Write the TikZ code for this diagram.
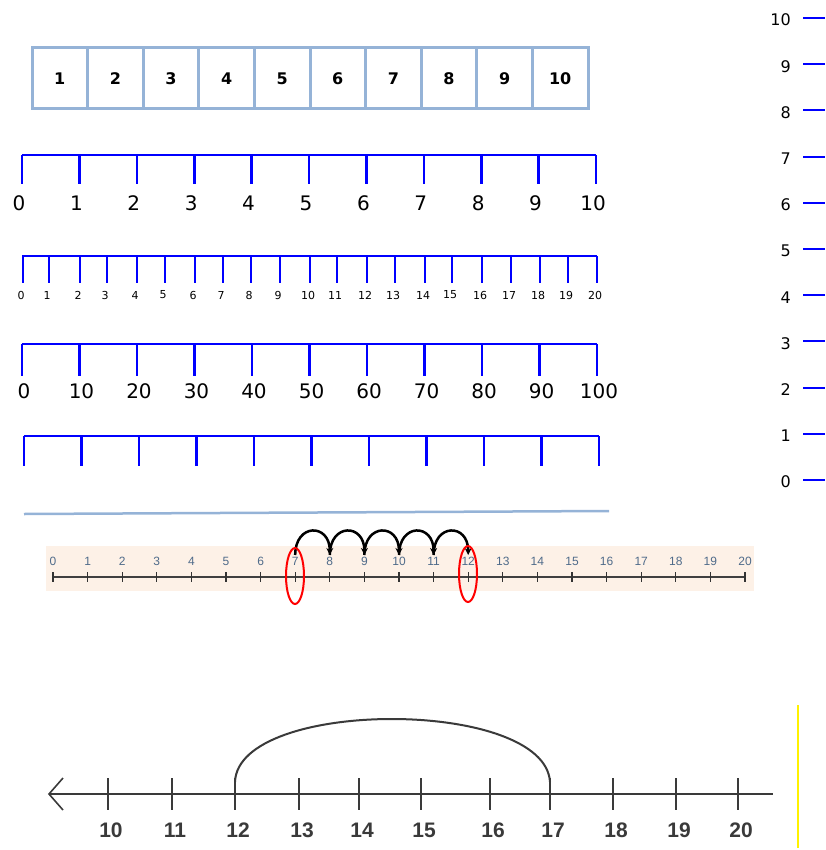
\documentclass[tikz,border=0pt]{standalone}
\usepackage{fontspec}
\setmainfont{DejaVu Sans}
\newfontfamily\arialf{Liberation Sans}
\usetikzlibrary{arrows.meta,shapes.geometric}
\definecolor{boxblue}{HTML}{95B3D7}
\definecolor{lineblue}{HTML}{0000FF}
\definecolor{peach}{HTML}{FDF1E7}
\definecolor{labgray}{HTML}{4F6B8A}
\definecolor{darkgrey}{HTML}{3A3A3A}
\tikzset{
  cell/.style={draw=boxblue, line width=3pt, minimum width=55.6pt, minimum height=61pt, inner sep=0pt, font=\bfseries\fontsize{16}{16}\selectfont},
  nl/.style={draw=lineblue, line width=2.6pt},
  biglab/.style={inner sep=0pt, font=\fontsize{20}{20}\selectfont},
  smalllab/.style={inner sep=0pt, font=\fontsize{11}{11}\selectfont},
  rightlab/.style={inner sep=0pt, anchor=east, font=\fontsize{16}{16}\selectfont},
  peachlab/.style={inner sep=0pt, text=labgray, font=\arialf\fontsize{12}{12}\selectfont},
  botlab/.style={inner sep=0pt, text=darkgrey, font=\arialf\bfseries\fontsize{21}{21}\selectfont},
  jump/.style={line width=2.5pt, -{Stealth[length=7pt,width=7pt]}},
  ring/.style={draw=red, line width=2pt, ellipse, minimum width=18pt, minimum height=56pt, inner sep=0pt},
}
\begin{document}
\begin{tikzpicture}[x=1pt,y=-1pt]
\useasboundingbox (0,0) rectangle (825,850);

% ten-frame row
\foreach \i in {1,...,10} {
  \node[cell] (c\i) at ({32+55.6*(\i-0.5)},78.5) {\i};
}

% number line 0-10
\draw[nl] (22,155) -- (596,155);
\foreach \i in {0,...,10} {
  \draw[nl] ({22+57.4*\i},155) -- ({22+57.4*\i},184);
  \node[biglab] (a\i) at ({22+57.4*\i-3},203) {\i};
}

% number line 0-20
\draw[nl] (22,256) -- (597,256);
\foreach \i/\x in {0/23,1/49,2/80,3/107,4/137,5/165,6/195,7/223,8/251,9/280,10/310,11/337,12/367,13/395,14/425,15/452,16/482,17/511,18/540,19/568,20/597} {
  \draw[nl] (\x,256) -- (\x,283);
  \node[smalllab] (b\i) at (\x-2,295) {\i};
}

% number line 0-100
\draw[nl] (22,344) -- (597,344);
\foreach \i in {0,...,10} {
  \draw[nl] ({22+57.5*\i},344) -- ({22+57.5*\i},376);
  \pgfmathtruncatemacro{\v}{10*\i}
  \node[biglab] (d\i) at ({22+57.5*\i+2},391) {\v};
}

% empty number line
\draw[nl] (24,436) -- (599,436);
\foreach \i in {0,...,10} {
  \draw[nl] ({24+57.5*\i},436) -- ({24+57.5*\i},466);
}

% light blue line
\draw[boxblue, line width=2.5pt] (24,514) -- (609,511);

% number line with jumps
\fill[peach] (46,546) rectangle (754,591);
\draw[black!75, line width=1.3pt] (53,577) -- (745,577);
\foreach \i in {0,...,20} {
  \draw[black!80, line width=1.2pt] ({53+34.6*\i},572) -- ({53+34.6*\i},582);
  \node[peachlab] (p\i) at ({53+34.6*\i},561) {\i};
  \coordinate (j\i) at ({53+34.6*\i},555);
}
\foreach \a/\b in {7/8,8/9,9/10,10/11,11/12} {
  \draw[jump] (j\a) .. controls ([yshift=32pt]j\a) and ([yshift=32pt]j\b) .. (j\b);
}
\node[ring] (r7) at (295,576) {};
\node[ring] (r12) at (468,574) {};

% vertical number line on the right
\foreach \i in {0,...,10} {
  \draw[lineblue, line width=2pt] (803,{480-46.2*\i}) -- (825,{480-46.2*\i});
  \node[rightlab] (v\i) at (791,{482-46.2*\i}) {\i};
}

% bottom number line
\draw[darkgrey, line width=1.6pt] (50,794) -- (773,794);
\draw[darkgrey, line width=1.6pt] (63,778) -- (49,794) -- (63,810);
\foreach \i/\x in {10/108,11/172,12/235,13/299,14/359,15/421,16/490,17/550,18/613,19/676,20/738} {
  \draw[darkgrey, line width=1.6pt] (\x,778) -- (\x,810);
  \node[botlab] (q\i) at (\x+3,830) {\i};
  \coordinate (k\i) at (\x,782);
}
\draw[darkgrey, line width=2pt] (k12) .. controls (238,698) and (545,698) .. (k17);

% yellow line
\draw[yellow, line width=2pt] (798,705) -- (798,848);
\end{tikzpicture}
\end{document}
